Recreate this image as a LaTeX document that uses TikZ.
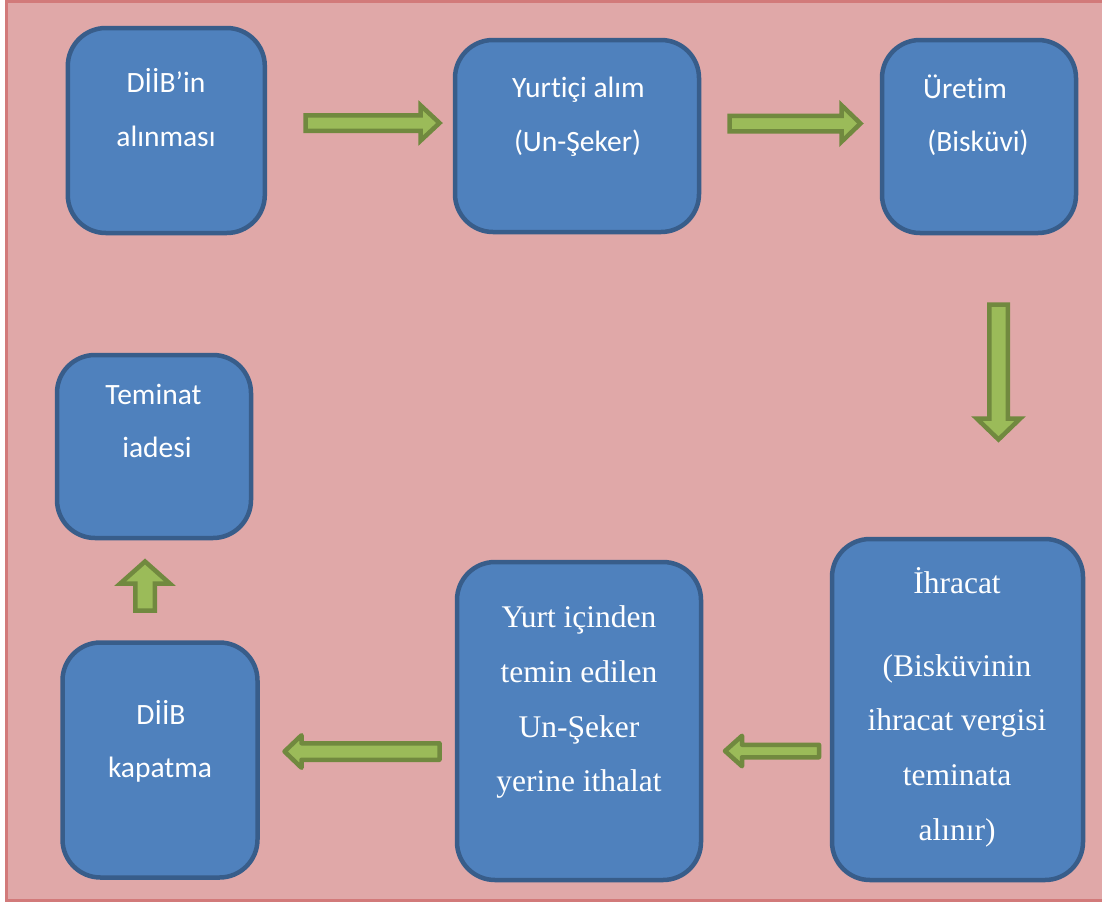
\documentclass[tikz,border=0pt]{standalone}
\usepackage{fontspec}
\newfontfamily\boxsans[Ligatures=NoCommon]{Carlito}
\newfontfamily\boxserif{Liberation Serif}
\definecolor{pagefill}{RGB}{224,168,168}
\definecolor{pageedge}{RGB}{210,122,122}
\definecolor{boxfill}{RGB}{79,129,189}
\definecolor{boxedge}{RGB}{56,93,138}
\definecolor{arrowfill}{RGB}{155,187,89}
\definecolor{arrowedge}{RGB}{113,137,63}
\tikzset{
  stage/.style={draw=boxedge, fill=boxfill, line width=4.5pt,
    rounded corners=38pt, inner sep=0pt},
  sanslbl/.style={font=\boxsans\fontsize{29.5}{34}\selectfont, text=white,
    inner sep=0pt, anchor=base},
  seriflbl/.style={font=\boxserif\fontsize{31.5}{38}\selectfont, text=white,
    inner sep=0pt, anchor=base},
  flowarrow/.style={draw=arrowedge, fill=arrowfill, line width=4.5pt},
  pics/blockarrow/.style n args={4}{code={
    \path[flowarrow] (0,{-#2/2}) -- ({#1-#4},{-#2/2}) -- ({#1-#4},{-#3/2})
      -- (#1,0) -- ({#1-#4},{#3/2}) -- ({#1-#4},{#2/2}) -- (0,{#2/2}) -- cycle;
  }}
}
\begin{document}
\begin{tikzpicture}[x=1pt,y=-1pt]
\useasboundingbox (0,0) rectangle (1102,902);
% page background with its frame
\path[fill=white] (0,0) rectangle (1102,902);
\draw[pageedge, fill=pagefill, line width=3pt] (6,1.5) rectangle (1110,900);

% process boxes
\node[stage, minimum width=197pt, minimum height=205pt] (b1) at (166.3,130.5) {};
\node[stage, minimum width=244pt, minimum height=192pt] (b2) at (577,136) {};
\node[stage, minimum width=194pt, minimum height=193pt] (b3) at (979,136.5) {};
\node[stage, minimum width=194pt, minimum height=183pt] (b4) at (154,446.5) {};
\node[stage, minimum width=195pt, minimum height=235pt] (b5) at (160,760) {};
\node[stage, minimum width=244pt, minimum height=318pt] (b6) at (579,721) {};
\node[stage, minimum width=251pt, minimum height=341pt] (b7) at (957.5,709.5) {};

% box texts
\node[sanslbl] (t1a) at (166,92) {DİİB’in};
\node[sanslbl] (t1b) at (166,146) {alınması};
\node[sanslbl] (t2a) at (578.5,97) {Yurtiçi alım};
\node[sanslbl] (t2b) at (577.5,151) {(Un-Şeker)};
\node[sanslbl] (t3a) at (965,98) {Üretim};
\node[sanslbl] (t3b) at (978,151) {(Bisküvi)};
\node[sanslbl] (t4a) at (153.5,404) {Teminat};
\node[sanslbl] (t4b) at (157,457) {iadesi};
\node[sanslbl] (t5a) at (161,724) {DİİB};
\node[sanslbl] (t5b) at (160,777) {kapatma};

\node[seriflbl] (t6a) at (579,627) {Yurt içinden};
\node[seriflbl] (t6b) at (579,682) {temin edilen};
\node[seriflbl] (t6c) at (579,737) {Un-Şeker};
\node[seriflbl] (t6d) at (579,791) {yerine ithalat};

\node[seriflbl] (t7a) at (957,593) {İhracat};
\node[seriflbl] (t7b) at (957,676) {(Bisküvinin};
\node[seriflbl] (t7c) at (957,730) {ihracat vergisi};
\node[seriflbl] (t7d) at (957,785) {teminata};
\node[seriflbl] (t7e) at (957,840) {alınır)};

% block arrows between the steps (tail points)
\coordinate (a1) at (305.5,123);
\coordinate (a2) at (729.5,123.5);
\coordinate (a3) at (998.5,304.5);
\coordinate (a4) at (819,751);
\coordinate (a5) at (439.5,751.5);
\coordinate (a6) at (145,610.5);

\pic at (a1) {blockarrow={134}{15.5}{35.5}{19}};
\pic at (a2) {blockarrow={131}{15.5}{36.5}{19}};
\pic[rotate=-90] at (a3) {blockarrow={135}{18.5}{43.5}{21}};
\pic[rotate=180, line join=round] at (a4) {blockarrow={94}{12.5}{30.5}{17}};
\pic[rotate=180, line join=round] at (a5) {blockarrow={155}{16.5}{32.5}{17}};
\pic[rotate=90] at (a6) {blockarrow={49}{19.5}{49.5}{22}};
\end{tikzpicture}
\end{document}
